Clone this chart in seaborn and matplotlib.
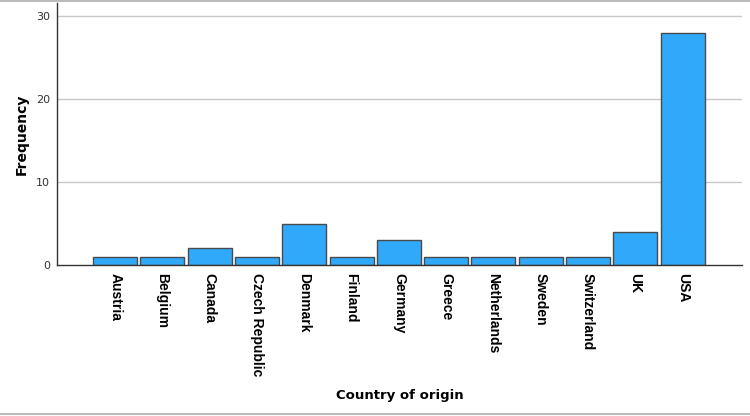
import matplotlib
matplotlib.use("Agg")
import matplotlib.pyplot as plt
import seaborn as sns
import pandas as pd
from matplotlib.lines import Line2D

countries = ["Austria", "Belgium", "Canada", "Czech Republic", "Denmark", "Finland",
             "Germany", "Greece", "Netherlands", "Sweden", "Switzerland", "UK", "USA"]
frequency = [1, 1, 2, 1, 5, 1, 3, 1, 1, 1, 1, 4, 28]
yticks = [0, 10, 20, 30]

sns.set_theme(style="white")
plt.rcParams['font.family'] = ['DejaVu Sans']
plt.rcParams['text.color'] = 'black'
plt.rcParams['axes.labelcolor'] = 'black'

df = pd.DataFrame({"Country of origin": countries, "Frequency": frequency})

fig = plt.figure(figsize=(7.5, 4.16), dpi=100)
ax = fig.add_axes([0.076, 0.363, 0.913, 0.630])

for y in yticks[1:]:
    ax.axhline(y, color="#c8c8c8", lw=1.0, zorder=0)

sns.barplot(data=df, x="Country of origin", y="Frequency", color="#31a9fa",
            saturation=1, width=0.93, edgecolor="#4a4a4a", linewidth=1.0, ax=ax, zorder=2)

ax.set_xlim(-1.23, 13.25)
ax.set_ylim(0, 31.6)
ax.set_yticks(yticks)
ax.tick_params(axis="y", labelsize=8, length=0, labelcolor="#333333", pad=5)
ax.tick_params(axis="x", length=0, pad=6)
ax.set_xticks(range(len(countries)))
ax.set_xticklabels(countries, rotation=270, fontsize=10, fontweight="bold",
                   family=["Liberation Sans", "DejaVu Sans"], va="top", ha="center",
                   color="black")

for s in ["top", "right"]:
    ax.spines[s].set_visible(False)
for s in ["left", "bottom"]:
    ax.spines[s].set_color("#333333")
    ax.spines[s].set_linewidth(1.0)

ax.set_ylabel("Frequency", fontsize=10, fontweight="bold")
ax.set_xlabel("Country of origin", fontsize=9.5, fontweight="bold")
ax.yaxis.set_label_coords(-(57 - 22) / 685.0, 0.5)
ax.xaxis.set_label_coords(0.5, -(395 - 265) / 262.0)
ax.xaxis.label.set_va("center")
ax.yaxis.label.set_va("center")

fig.add_artist(Line2D([0, 1], [0.998, 0.998], color="#bbbbbb", lw=1.5, transform=fig.transFigure))
fig.add_artist(Line2D([0, 1], [0.005, 0.005], color="#bbbbbb", lw=1.5, transform=fig.transFigure))

fig.savefig("out.png", dpi=100)
